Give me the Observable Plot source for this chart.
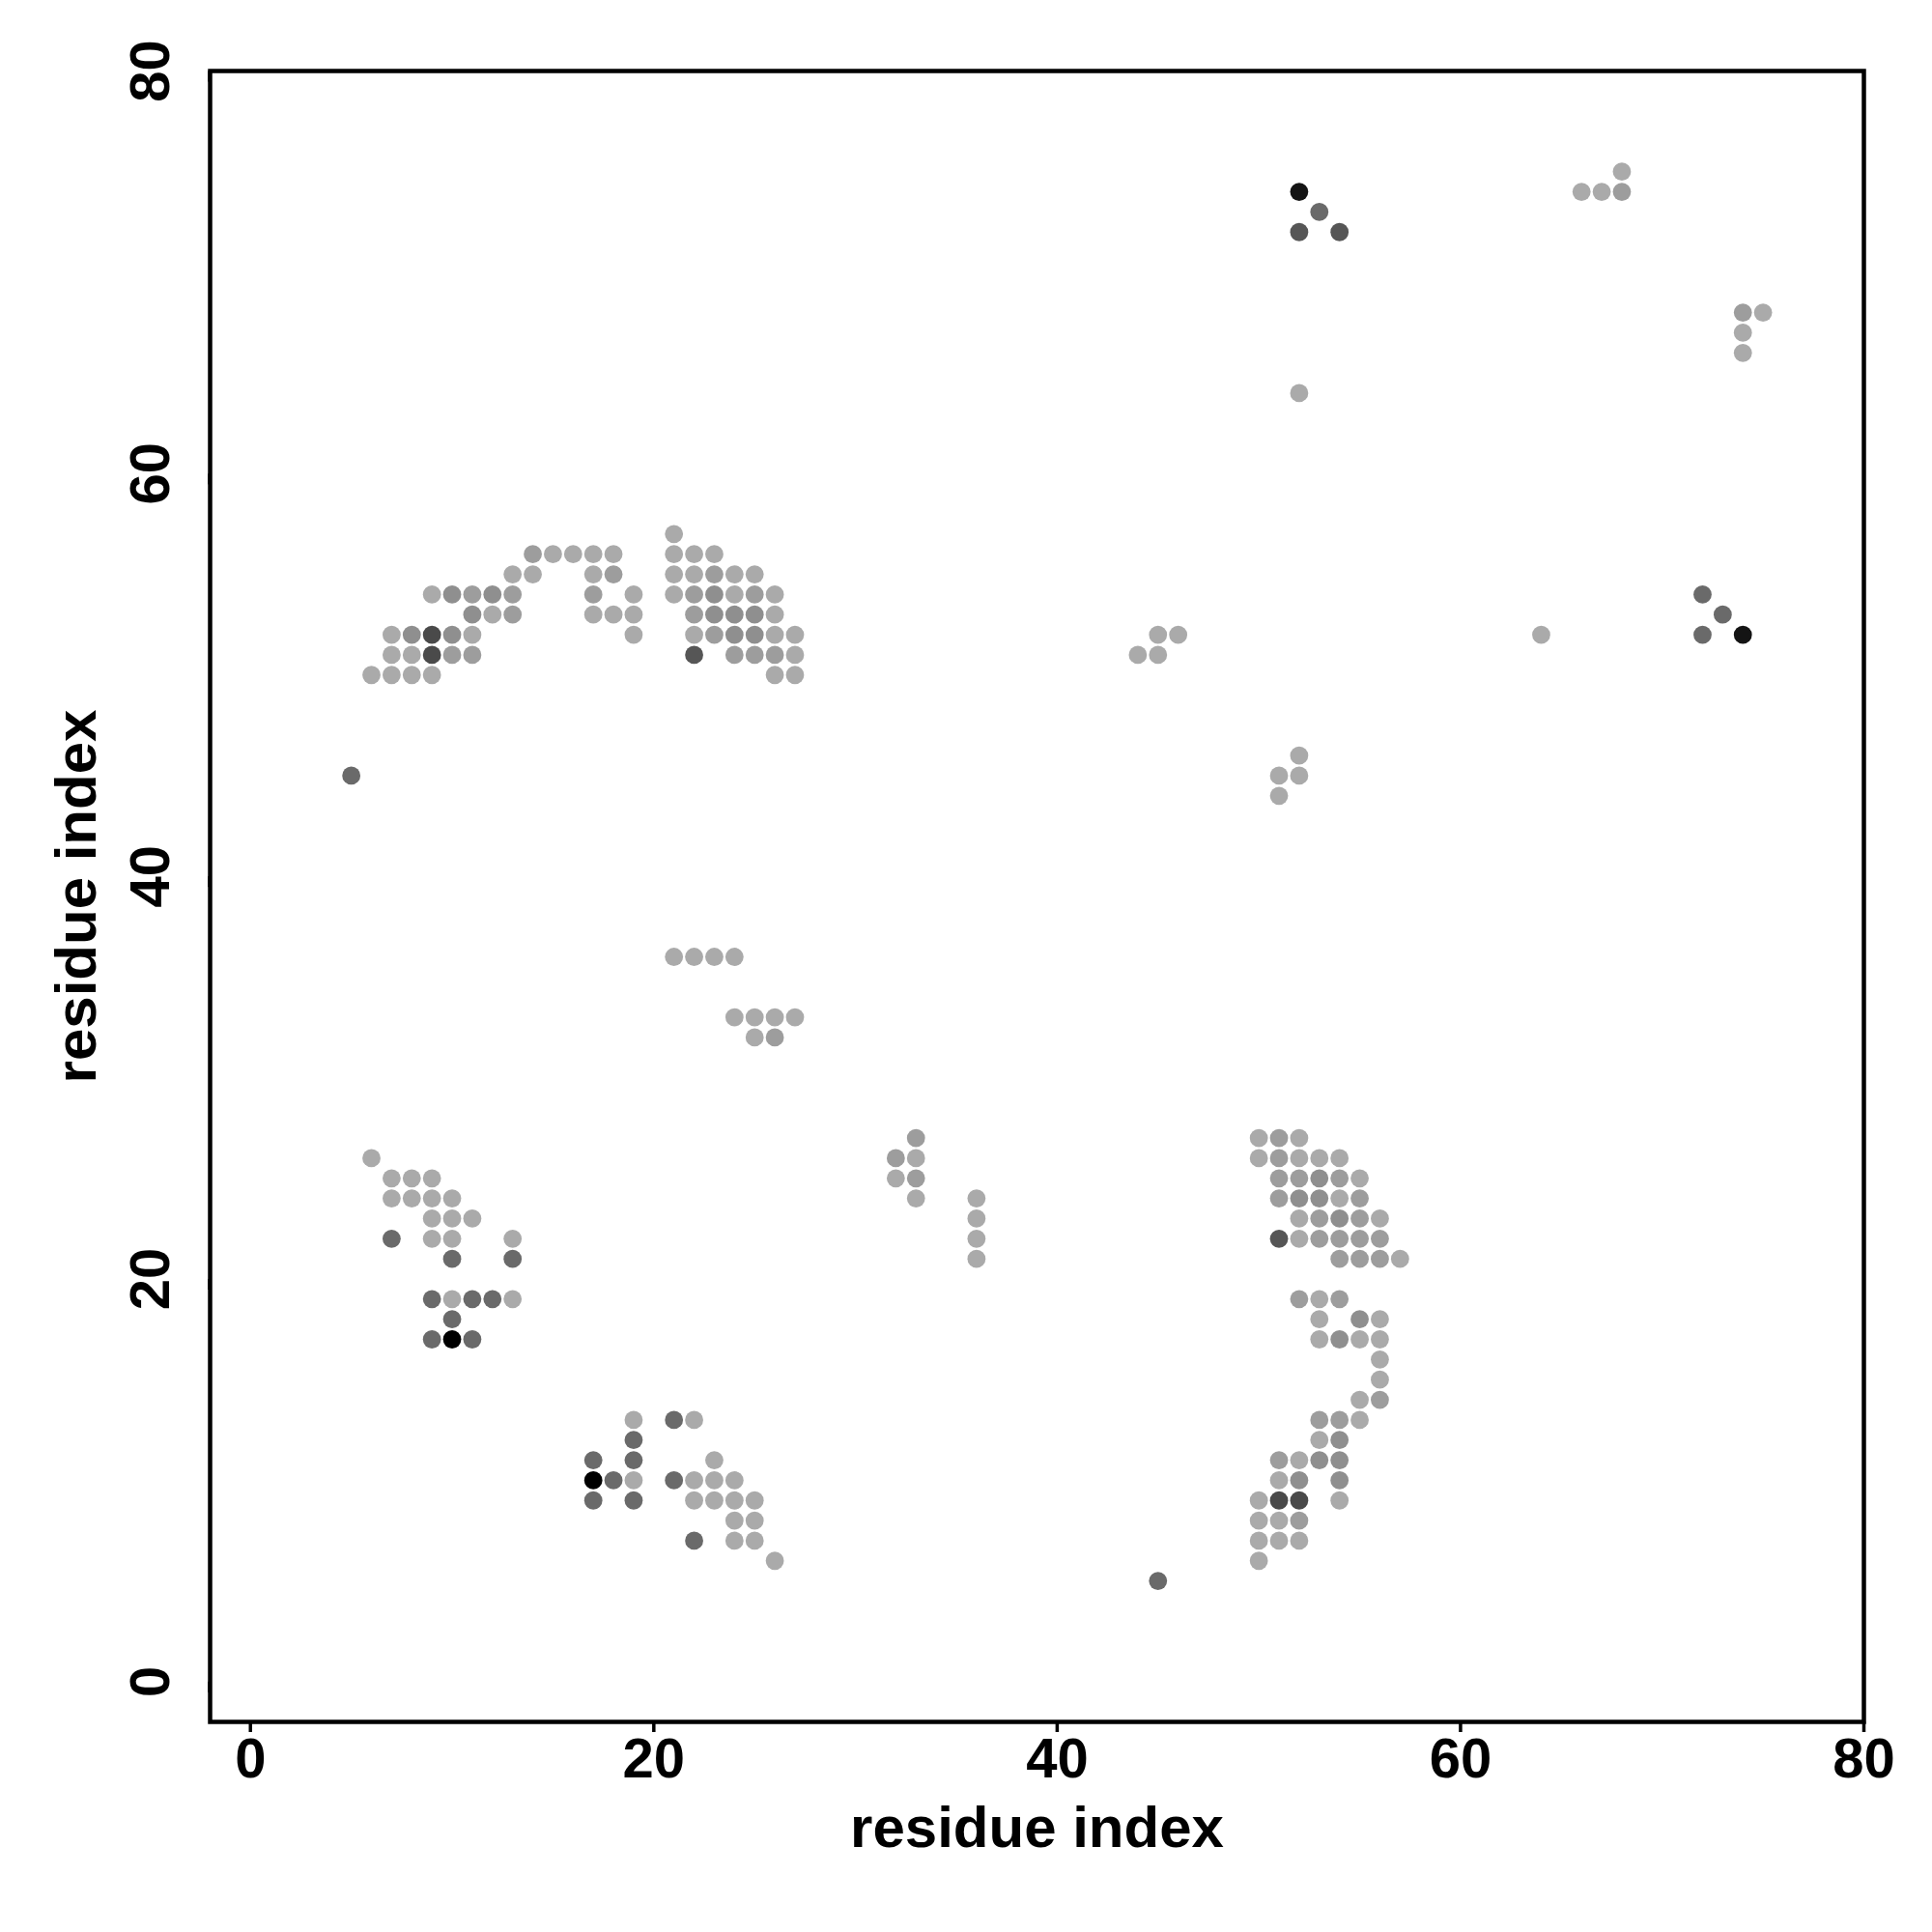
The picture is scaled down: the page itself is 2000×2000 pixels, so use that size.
<!DOCTYPE html>
<html>
<head>
<meta charset="utf-8">
<script src="https://cdn.jsdelivr.net/npm/d3@7"></script>
<script src="https://cdn.jsdelivr.net/npm/@observablehq/plot@0.6"></script>
<style>
  html, body { margin: 0; padding: 0; background: #ffffff; }
  #chart svg { display: block; }
</style>
</head>
<body>
<div id="chart"></div>
<script>
// Contact map: residue index pairs, grouped by row (y residue)
const contactY = [75, 74, 73, 72, 68, 67, 66, 64, 57, 56, 55, 54, 53, 52, 51, 50, 46, 45, 44, 36, 33, 32,
  27, 26, 25, 24, 23, 22, 21, 19, 18, 17, 16, 15, 14, 13, 12, 11, 10, 9, 8, 7, 6, 5];
const contactX = [
  [68],
  [52, 66, 67, 68],
  [53],
  [52, 54],
  [74, 75],
  [74],
  [74],
  [52],
  [21],
  [14, 15, 16, 17, 18, 21, 22, 23],
  [13, 14, 17, 18, 21, 22, 23, 24, 25],
  [9, 10, 11, 12, 13, 17, 19, 21, 22, 23, 24, 25, 26, 72],
  [11, 12, 13, 17, 18, 19, 22, 23, 24, 25, 26, 73],
  [7, 8, 9, 10, 11, 19, 22, 23, 24, 25, 26, 27, 45, 46, 64, 72, 74],
  [7, 8, 9, 10, 11, 22, 24, 25, 26, 27, 44, 45],
  [6, 7, 8, 9, 26, 27],
  [52],
  [5, 51, 52],
  [51],
  [21, 22, 23, 24],
  [24, 25, 26, 27],
  [25, 26],
  [33, 50, 51, 52],
  [6, 32, 33, 50, 51, 52, 53, 54],
  [7, 8, 9, 32, 33, 51, 52, 53, 54, 55],
  [7, 8, 9, 10, 33, 36, 51, 52, 53, 54, 55],
  [9, 10, 11, 36, 52, 53, 54, 55, 56],
  [7, 9, 10, 13, 36, 51, 52, 53, 54, 55, 56],
  [10, 13, 36, 54, 55, 56, 57],
  [9, 10, 11, 12, 13, 52, 53, 54],
  [10, 53, 55, 56],
  [9, 10, 11, 53, 54, 55, 56],
  [56],
  [56],
  [55, 56],
  [19, 21, 22, 53, 54, 55],
  [19, 53, 54],
  [17, 19, 23, 51, 52, 53, 54],
  [17, 18, 19, 21, 22, 23, 24, 51, 52, 54],
  [17, 19, 22, 23, 24, 25, 50, 51, 52, 54],
  [24, 25, 50, 51, 52],
  [22, 24, 25, 50, 51, 52],
  [26, 50],
  [45]
];
// contact strength level (1 = weak/light grey ... 8 = strongest/black)
const contactLevel = [
  [1],
  [7, 1, 1, 2],
  [4],
  [5, 5],
  [2, 1],
  [1],
  [1],
  [1],
  [1],
  [2, 1, 1, 1, 1, 1, 1, 1],
  [1, 1, 1, 2, 1, 1, 2, 1, 1],
  [1, 3, 2, 3, 2, 2, 1, 1, 2, 3, 1, 2, 1, 4],
  [3, 1, 2, 1, 1, 1, 2, 3, 3, 3, 1, 4],
  [1, 3, 6, 3, 1, 1, 1, 2, 3, 3, 1, 1, 1, 1, 1, 4, 7],
  [1, 1, 6, 2, 2, 5, 2, 2, 2, 1, 1, 1],
  [1, 1, 1, 1, 1, 1],
  [1],
  [4, 1, 1],
  [1],
  [1, 1, 1, 1],
  [1, 1, 1, 1],
  [1, 2],
  [2, 1, 2, 1],
  [1, 2, 1, 1, 2, 1, 1, 1],
  [1, 1, 1, 1, 2, 2, 2, 3, 2, 1],
  [1, 1, 1, 1, 1, 1, 2, 3, 3, 1, 2],
  [1, 1, 1, 1, 1, 2, 3, 2, 1],
  [4, 1, 1, 1, 1, 5, 1, 2, 2, 2, 2],
  [4, 4, 1, 2, 2, 2, 1],
  [4, 1, 4, 4, 1, 2, 1, 2],
  [4, 1, 3, 1],
  [4, 8, 4, 1, 3, 1, 1],
  [1],
  [1],
  [1, 2],
  [1, 4, 1, 2, 2, 1],
  [4, 1, 3],
  [4, 4, 1, 2, 1, 3, 3],
  [8, 4, 1, 4, 1, 1, 1, 1, 3, 3],
  [4, 4, 1, 1, 1, 1, 1, 6, 6, 1],
  [1, 1, 1, 1, 2],
  [4, 1, 1, 1, 1, 1],
  [1, 1],
  [4]
];
const levels = [1, 2, 3, 4, 5, 6, 7, 8];
const levelGreys = ["#aaaaaa", "#9d9d9d", "#8f8f8f", "#6a6a6a", "#565656", "#4a4a4a", "#141414", "#000000"];
const tickValues = [0, 20, 40, 60, 80];
const axisTitle = "residue index";

const contacts = contactY.flatMap((y, r) =>
  contactX[r].map((x, k) => ({x, y, level: contactLevel[r][k]}))
);

const font = "'Liberation Sans', Arial, Helvetica, sans-serif";

const chart = Plot.plot({
  width: 2000,
  height: 2000,
  marginLeft: 217,
  marginRight: 71,
  marginTop: 73,
  marginBottom: 218,
  style: {fontFamily: font, background: "#ffffff", color: "#000000"},
  x: {domain: [-2, 80]},
  y: {domain: [-2, 80]},
  color: {type: "ordinal", domain: levels, range: levelGreys},
  marks: [
    Plot.dot(contacts, {x: "x", y: "y", fill: "level", r: 9.4, stroke: "none"}),
    Plot.frame({stroke: "#000000", strokeWidth: 4.5}),
    Plot.axisX({ticks: tickValues, tickSize: 11, tickPadding: 5, strokeWidth: 3.5,
      fontSize: 58, fontWeight: "bold", label: null}),
    Plot.axisY({ticks: tickValues, tickSize: 11, tickPadding: 50, strokeWidth: 3.5,
      fontSize: 58, fontWeight: "bold", label: null, rotate: -90, textAnchor: "middle"}),
    Plot.text([axisTitle], {frameAnchor: "bottom", dy: 110, fontSize: 60, fontWeight: "bold",
      textAnchor: "middle", lineAnchor: "middle", fill: "#000000"}),
    Plot.text([axisTitle], {frameAnchor: "left", dx: -138, rotate: -90, fontSize: 60, fontWeight: "bold",
      textAnchor: "middle", lineAnchor: "middle", fill: "#000000"})
  ]
});
document.getElementById("chart").appendChild(chart);
</script>
</body>
</html>
